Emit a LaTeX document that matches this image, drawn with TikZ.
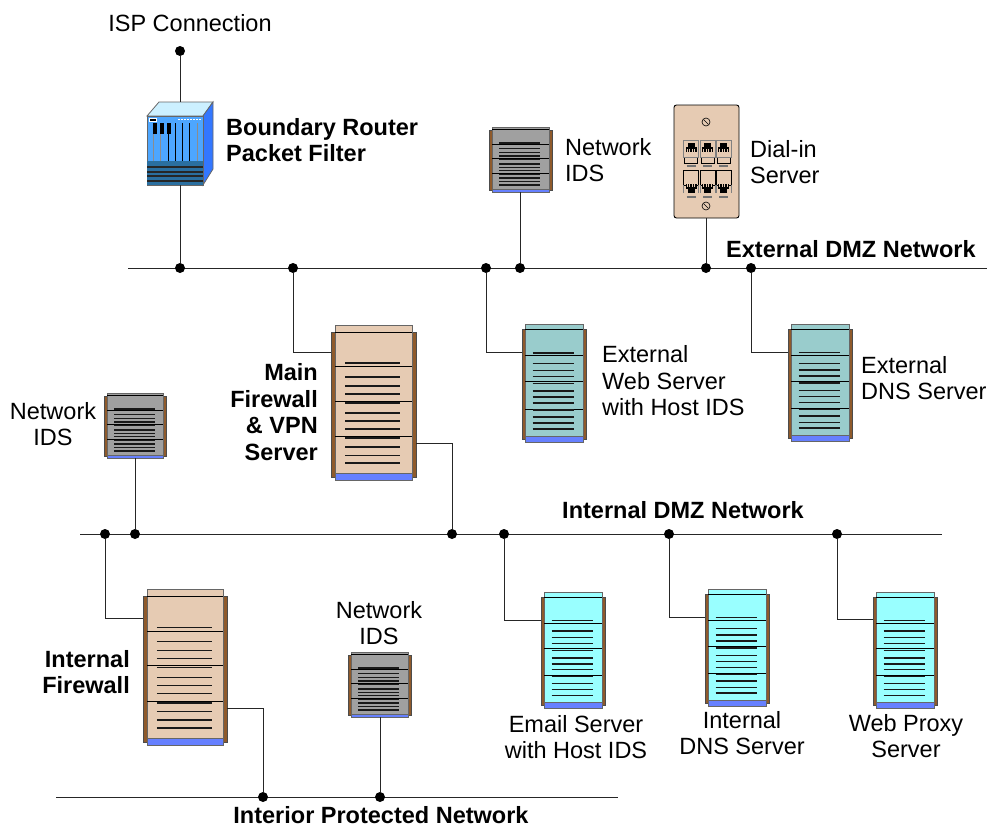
\documentclass[tikz,border=0pt]{standalone}
\usepackage{fontspec}
\setmainfont{Liberation Sans}
\definecolor{tan}{HTML}{E6CBB3}
\definecolor{teal}{HTML}{99CCCC}
\definecolor{cyn}{HTML}{99FFFF}
\definecolor{gry}{HTML}{A0A0A0}
\definecolor{brn}{HTML}{8F5A2B}
\definecolor{blu}{HTML}{6680FF}
\definecolor{rfront}{HTML}{4DA6FF}
\definecolor{rside}{HTML}{3377FF}
\definecolor{rtop}{HTML}{CCF0FF}
\definecolor{rband}{HTML}{2A6FA0}
% body x, y, width, height, colour, node name
\newcommand{\srv}[6]{%
  \node[srvnode,minimum width=#3pt,minimum height=#4pt] (#6) at (#1+#3/2,#2+#4/2) {};
  \begin{scope}[shift={(#1,#2)},x=#3/100*1pt,y=-#4/100*1pt]
    \fill[brn,draw=black!70,line width=.5pt] (-5.5,4.5) rectangle (0,98);
    \fill[brn,draw=black!70,line width=.5pt] (100,4.5) rectangle (105.5,98);
    \fill[#5,draw=black!60,line width=.8pt] (0,0) rectangle (100,100);
    \fill[blu,draw=black!60,line width=.8pt] (0,95.5) rectangle (100,100);
    \draw[shelf] (0,4.5) -- (100,4.5) (0,27) -- (100,27) (0,49) -- (100,49) (0,72) -- (100,72);
    \foreach \yy in {24.5,33.5,39.3,44.5,50.3,56.8,62,67,73,78.7,84,89}
      \draw[rowline] (13,\yy) -- (85,\yy);
  \end{scope}}
\tikzset{
  srvnode/.style={inner sep=0pt,outer sep=0pt,draw=none},
  shelf/.style={black,line width=.9pt},
  rowline/.style={black!90,line width=1.4pt},
  wire/.style={black!85,line width=.9pt},
  dot/.style={circle,fill=black,inner sep=0pt,minimum size=10pt},
  lbl/.style={inner sep=0pt,align=center,font=\fontsize{23.5}{26.5}\selectfont},
  blbl/.style={lbl,font=\fontsize{23.5}{26.5}\selectfont\bfseries},
  jack/.style={fill=tan,draw=black,line width=.6pt},
  screw/.style={circle,draw=black,line width=.6pt,minimum size=8pt,inner sep=0pt},
  smudge/.style={black!55,line width=1.2pt}
}
\begin{document}
\begin{tikzpicture}[x=1pt,y=-1pt]
\useasboundingbox (0,0) rectangle (987,827);
% texts
\node[lbl] (tisp) at (190,23) {ISP Connection};
\node[blbl,align=left,anchor=west] (tbr) at (226,140) {Boundary Router\\Packet Filter};
\node[lbl,align=left,anchor=west] (tn1) at (565,160) {Network\\IDS};
\node[lbl,align=left,anchor=west] (tdi) at (750,162) {Dial-in\\Server};
\node[blbl,anchor=west] (text) at (726,249) {External DMZ Network};
\node[blbl,align=right,anchor=east] (tmain) at (318,412) {Main\\Firewall\\\& VPN\\Server};
\node[lbl,align=left,anchor=west] (tweb) at (602,381) {External\\Web Server\\with Host IDS};
\node[lbl,align=left,anchor=west] (tdns) at (861,378) {External\\DNS Server};
\node[lbl] (tn2) at (53,424) {Network\\IDS};
\node[blbl] (tint) at (683,510) {Internal DMZ Network};
\node[blbl,align=right,anchor=east] (tif) at (130,672) {Internal\\Firewall};
\node[lbl] (tn3) at (379,623) {Network\\IDS};
\node[lbl] (tem) at (576,737) {Email Server\\with Host IDS};
\node[lbl] (tid) at (742,733) {Internal\\DNS Server};
\node[lbl] (twp) at (906,736) {Web Proxy\\Server};
\node[blbl] (tpn) at (381,815.5) {Interior Protected Network};
% servers
\srv{335}{325}{77}{155}{tan}{main}
\srv{525}{324}{58}{118}{teal}{eweb}
\srv{791}{324}{58}{117}{teal}{edns}
\srv{147}{589}{76}{156}{tan}{ifw}
\srv{544}{592}{58}{116}{cyn}{mail}
\srv{708}{589}{58}{117}{cyn}{idns}
\srv{876}{592}{58}{116}{cyn}{prox}
\srv{492}{127}{57}{65}{gry}{ids1}
\srv{107}{393}{56}{65}{gry}{ids2}
\srv{351}{652}{57}{65}{gry}{ids3}
% router
\node[srvnode,minimum width=66pt,minimum height=83pt] (rtr) at (180,143.5) {};
\fill[rtop,draw=black!60,line width=.8pt] (147,116) -- (159,102) -- (213,102) -- (203,116) -- cycle;
\fill[rside,draw=black!60,line width=.8pt] (203,116) -- (213,102) -- (213,169) -- (203,185) -- cycle;
\fill[rfront,draw=black!60,line width=.8pt] (147,116) rectangle (203,185);
\fill[rband] (147,161) rectangle (203,185);
\foreach \yy in {167,172,176,181}\draw[black!85,line width=1.1pt] (147,\yy) -- (203,\yy);
\foreach \xx in {153,160,168,175,182,189,197}\draw[black!45,line width=.7pt] (\xx,123) -- (\xx,161);
\foreach \xx in {168,175,182,189}\draw[black,line width=.9pt] (\xx,123) -- (\xx,161);
\foreach \xx in {155,162,169}\fill[black] (\xx-2,123) rectangle (\xx+2,134);
\draw[white,fill=black,line width=.6pt] (149,118) rectangle (156,121.5);
\draw[white,line width=.9pt,dash pattern=on 2pt off 1pt] (178,119.5) -- (201,119.5);
% dial-in plate
\node[srvnode,minimum width=65pt,minimum height=113pt,fill=tan,draw=black,line width=.9pt,rounded corners=2.5pt] (dial) at (706.5,161.5) {};
\node[screw] (s1) at (706,122) {};
\draw[black,line width=.6pt] (703.5,119.5) -- (708.5,124.5);
\node[screw] (s2) at (706,206) {};
\draw[black,line width=.6pt] (703.5,203.5) -- (708.5,208.5);
\foreach \xx in {683.5,700,716}{
  % upper jack
  \draw[jack] (\xx+1,157) rectangle +(13,6);
  \draw[jack,draw=black!50] (\xx,140) rectangle +(15,17);
  \fill[black] (\xx+2,147) rectangle +(11,5);
  \fill[black] (\xx+4,142.5) rectangle +(7,4.5);
  \foreach \tt in {3.5,6,8.5,11}\draw[tan,line width=.8pt] (\xx+\tt,149) -- +(0,3);
  \draw[smudge] (\xx+3,166) -- +(9,0);
  % lower jack
  \draw[jack] (\xx,170) rectangle +(15,15);
  \draw[black!50,line width=.5pt] (\xx,185) -- +(0,8) (\xx+15,185) -- +(0,8);
  \fill[black] (\xx+2,184) rectangle +(11,5);
  \fill[black] (\xx+4,189) rectangle +(7,4);
  \foreach \tt in {3.5,6,8.5,11}\draw[tan,line width=.8pt] (\xx+\tt,184) -- +(0,3);
  \draw[smudge] (\xx+3,197) -- +(9,0);
}
% buses
\coordinate (b1l) at (128,268); \coordinate (b1r) at (987,268);
\coordinate (b2l) at (80,534); \coordinate (b2r) at (942,534);
\coordinate (b3l) at (56,797); \coordinate (b3r) at (618,797);
\draw[wire] (b1l) -- (b1r);
\draw[wire] (b2l) -- (b2r);
\draw[wire] (b3l) -- (b3r);
\foreach \nm/\xx in {a/180,b/293,c/486,d/520,e/706,f/751}\node[dot] (d\nm) at (\xx,268) {};
\foreach \nm/\xx in {g/105,h/135,i/452,j/504,k/669,l/837}\node[dot] (d\nm) at (\xx,534) {};
\foreach \nm/\xx in {m/263,n/380}\node[dot] (d\nm) at (\xx,797) {};
\node[dot] (isp) at (180,51) {};
% connectors
\draw[wire] (isp) -- (rtr.north -| isp);
\draw[wire] (rtr.south -| isp) -- (da);
\draw[wire] (db) |- ([xshift=-4pt,yshift=50.5pt]main.west);
\draw[wire] (dc) |- ([xshift=-3pt,yshift=31pt]eweb.west);
\draw[wire] (dd) -- (ids1.south -| dd);
\draw[wire] (de) -- (dial.south -| de);
\draw[wire] (df) |- ([xshift=-3pt,yshift=30pt]edns.west);
\draw[wire] (dh) -- (ids2.south -| dh);
\draw[wire] (dg) |- ([xshift=-4pt,yshift=49pt]ifw.west);
\draw[wire] (di) |- ([xshift=4pt,yshift=-40.5pt]main.east);
\draw[wire] (dj) |- ([xshift=-3pt,yshift=30pt]mail.west);
\draw[wire] (dk) |- ([xshift=-3pt,yshift=30pt]idns.west);
\draw[wire] (dl) |- ([xshift=-3pt,yshift=31pt]prox.west);
\draw[wire] (dm) |- ([xshift=4pt,yshift=-41pt]ifw.east);
\draw[wire] (dn) -- (ids3.south -| dn);
\end{tikzpicture}
\end{document}
